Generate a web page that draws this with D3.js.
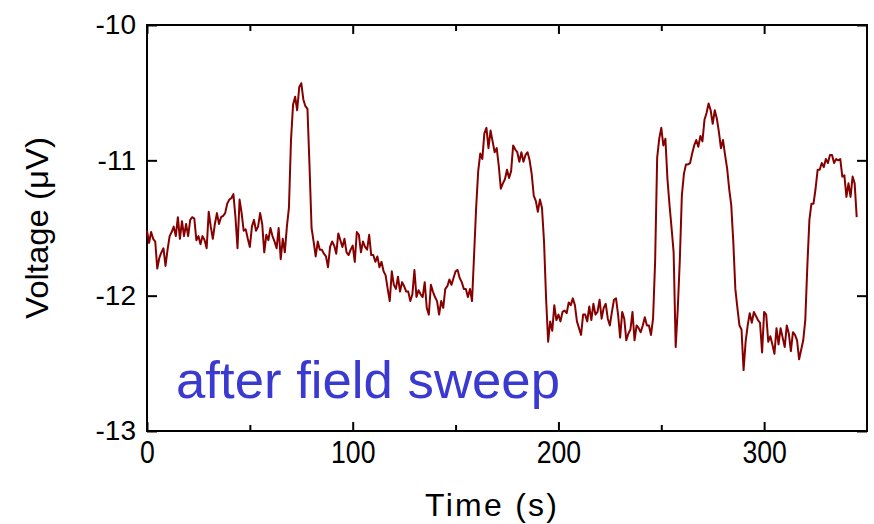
<!DOCTYPE html>
<html>
<head>
<meta charset="utf-8">
<script src="https://cdn.jsdelivr.net/npm/d3@7"></script>
<style>
  body { margin: 0; background: #fff; }
  text { font-family: "Liberation Sans", Arial, sans-serif; }
</style>
</head>
<body>
<div id="chart"></div>
<script>
// sampled once per second, t = 0 .. 345 s
const sampleStep = 1;
const voltage = [
  -11.52, -11.61, -11.53, -11.58, -11.60, -11.80, -11.72, -11.68, -11.65, -11.78,
  -11.66, -11.56, -11.53, -11.49, -11.56, -11.42, -11.58, -11.45, -11.56, -11.47,
  -11.56, -11.44, -11.42, -11.43, -11.59, -11.56, -11.62, -11.56, -11.59, -11.65,
  -11.38, -11.49, -11.58, -11.47, -11.39, -11.47, -11.42, -11.41, -11.39, -11.32,
  -11.29, -11.28, -11.25, -11.42, -11.65, -11.29, -11.39, -11.52, -11.51, -11.58,
  -11.64, -11.49, -11.44, -11.52, -11.49, -11.39, -11.47, -11.68, -11.55, -11.59,
  -11.50, -11.56, -11.60, -11.65, -11.50, -11.73, -11.58, -11.68, -11.49, -11.35,
  -10.85, -10.59, -10.53, -10.63, -10.46, -10.43, -10.55, -10.60, -10.62, -11.04,
  -11.50, -11.60, -11.71, -11.60, -11.66, -11.66, -11.69, -11.71, -11.79, -11.64,
  -11.60, -11.63, -11.69, -11.54, -11.59, -11.64, -11.58, -11.68, -11.70, -11.66,
  -11.63, -11.75, -11.53, -11.55, -11.68, -11.60, -11.64, -11.66, -11.55, -11.70,
  -11.70, -11.75, -11.71, -11.79, -11.75, -11.82, -11.85, -11.95, -12.04, -11.82,
  -11.92, -11.95, -11.86, -11.97, -11.90, -11.93, -11.97, -11.97, -12.04, -11.99,
  -11.81, -12.01, -11.96, -11.99, -12.01, -11.90, -12.09, -12.14, -11.92, -11.97,
  -12.01, -12.04, -12.14, -12.04, -12.09, -11.95, -11.93, -11.88, -11.92, -11.87,
  -11.82, -11.81, -11.87, -11.90, -11.95, -11.95, -12.01, -11.95, -12.04, -11.70,
  -11.35, -11.08, -10.95, -10.99, -10.80, -10.76, -10.91, -10.78, -10.86, -10.94,
  -10.91, -11.04, -11.21, -11.17, -11.14, -11.07, -11.13, -11.08, -10.89, -10.92,
  -10.94, -11.01, -10.94, -11.01, -10.96, -10.94, -11.00, -11.10, -11.26, -11.30,
  -11.38, -11.29, -11.35, -11.60, -12.02, -12.34, -12.19, -12.26, -12.07, -12.18,
  -12.14, -12.19, -12.12, -12.11, -12.13, -12.05, -12.07, -12.02, -12.07, -12.19,
  -12.24, -12.29, -12.14, -12.14, -12.19, -12.08, -12.18, -12.06, -12.14, -12.12,
  -12.03, -12.17, -12.09, -12.06, -12.17, -12.22, -12.12, -12.03, -12.02, -12.14,
  -12.31, -12.12, -12.17, -12.33, -12.28, -12.25, -12.12, -12.33, -12.22, -12.24,
  -12.27, -12.22, -12.16, -12.22, -12.22, -12.29, -12.17, -11.75, -10.98, -10.84,
  -10.76, -10.89, -10.84, -11.14, -11.33, -11.50, -11.68, -12.38, -12.10, -11.74,
  -11.26, -11.10, -11.03, -11.03, -11.02, -10.95, -10.89, -10.85, -10.90, -10.82,
  -10.86, -10.70, -10.65, -10.58, -10.63, -10.73, -10.63, -10.69, -10.79, -10.91,
  -10.85, -10.96, -11.06, -11.21, -11.33, -11.60, -11.95, -12.09, -12.22, -12.25,
  -12.55, -12.34, -12.22, -12.13, -12.20, -12.12, -12.15, -12.18, -12.20, -12.42,
  -12.12, -12.14, -12.34, -12.30, -12.36, -12.43, -12.24, -12.36, -12.24, -12.31,
  -12.38, -12.22, -12.28, -12.41, -12.27, -12.29, -12.33, -12.47, -12.40, -12.33,
  -12.18, -11.78, -11.44, -11.32, -11.32, -11.21, -11.07, -11.07, -11.02, -11.05,
  -10.99, -11.02, -10.96, -10.96, -11.02, -10.99, -11.00, -10.99, -11.12, -11.11,
  -11.27, -11.17, -11.27, -11.12, -11.17, -11.42
];
const xTicks = [0, 100, 200, 300];
const xMinorTicks = [50, 150, 250];
const yTicks = [-10, -11, -12, -13];

const W = 874, H = 524;
const margin = { left: 147, right: 867, top: 25, bottom: 431 };

const svg = d3.select("#chart").append("svg")
  .attr("width", W)
  .attr("height", H);

svg.append("rect").attr("width", W).attr("height", H).attr("fill", "#fff");

const x = d3.scaleLinear().domain([0, 350]).range([margin.left, margin.right]);
const y = d3.scaleLinear().domain([-13, -10]).range([margin.bottom, margin.top]);

// left axis with labels
const gy = svg.append("g")
  .attr("transform", "translate(" + margin.left + ",0)")
  .call(d3.axisLeft(y).tickValues(yTicks).tickSizeInner(-10).tickSizeOuter(0)
    .tickPadding(11).tickFormat(d => String(d)));
gy.selectAll("text").attr("font-size", 28).attr("fill", "#000");

// right axis, ticks only
svg.append("g")
  .attr("transform", "translate(" + margin.right + ",0)")
  .call(d3.axisRight(y).tickValues(yTicks).tickSizeInner(-10).tickSizeOuter(0).tickFormat(""));

// bottom axis
const gx = svg.append("g")
  .attr("transform", "translate(0," + margin.bottom + ")")
  .call(d3.axisBottom(x).tickValues(xTicks).tickSizeInner(-9).tickSizeOuter(0)
    .tickPadding(10).tickFormat(d => String(d)));
gx.selectAll("text").attr("font-size", 31).attr("fill", "#000")
  .attr("transform", "scale(0.86,1)");
svg.append("g")
  .attr("transform", "translate(0," + margin.bottom + ")")
  .call(d3.axisBottom(x).tickValues(xMinorTicks).tickSizeInner(-6).tickSizeOuter(0).tickFormat(""));

// top axis, ticks only
svg.append("g")
  .attr("transform", "translate(0," + margin.top + ")")
  .call(d3.axisTop(x).tickValues(xTicks).tickSizeInner(-9).tickSizeOuter(0).tickFormat(""));
svg.append("g")
  .attr("transform", "translate(0," + margin.top + ")")
  .call(d3.axisTop(x).tickValues(xMinorTicks).tickSizeInner(-6).tickSizeOuter(0).tickFormat(""));

svg.selectAll(".domain").remove();
svg.selectAll(".tick line").attr("stroke", "#000").attr("stroke-width", 2);

// frame
svg.append("rect")
  .attr("x", margin.left).attr("y", margin.top)
  .attr("width", margin.right - margin.left).attr("height", margin.bottom - margin.top)
  .attr("fill", "none").attr("stroke", "#000").attr("stroke-width", 2);

// data line
const line = d3.line()
  .x((d, i) => x(i * sampleStep))
  .y(d => y(d));
svg.append("path")
  .datum(voltage)
  .attr("d", line)
  .attr("fill", "none")
  .attr("stroke", "#860000")
  .attr("stroke-width", 2)
  .attr("stroke-linejoin", "round");

// axis titles
svg.append("text")
  .attr("x", 491).attr("y", 516)
  .attr("text-anchor", "middle")
  .attr("font-size", 32)
  .attr("textLength", 132).attr("lengthAdjust", "spacing")
  .text("Time (s)");

svg.append("text")
  .attr("transform", "translate(48,228) rotate(-90)")
  .attr("text-anchor", "middle")
  .attr("font-size", 32)
  .attr("textLength", 182).attr("lengthAdjust", "spacingAndGlyphs")
  .text("Voltage (\u03bcV)");

// annotation
svg.append("text")
  .attr("x", 176).attr("y", 398)
  .attr("font-size", 52)
  .attr("fill", "#3a3ad0")
  .attr("textLength", 384).attr("lengthAdjust", "spacingAndGlyphs")
  .text("after field sweep");
</script>
</body>
</html>
